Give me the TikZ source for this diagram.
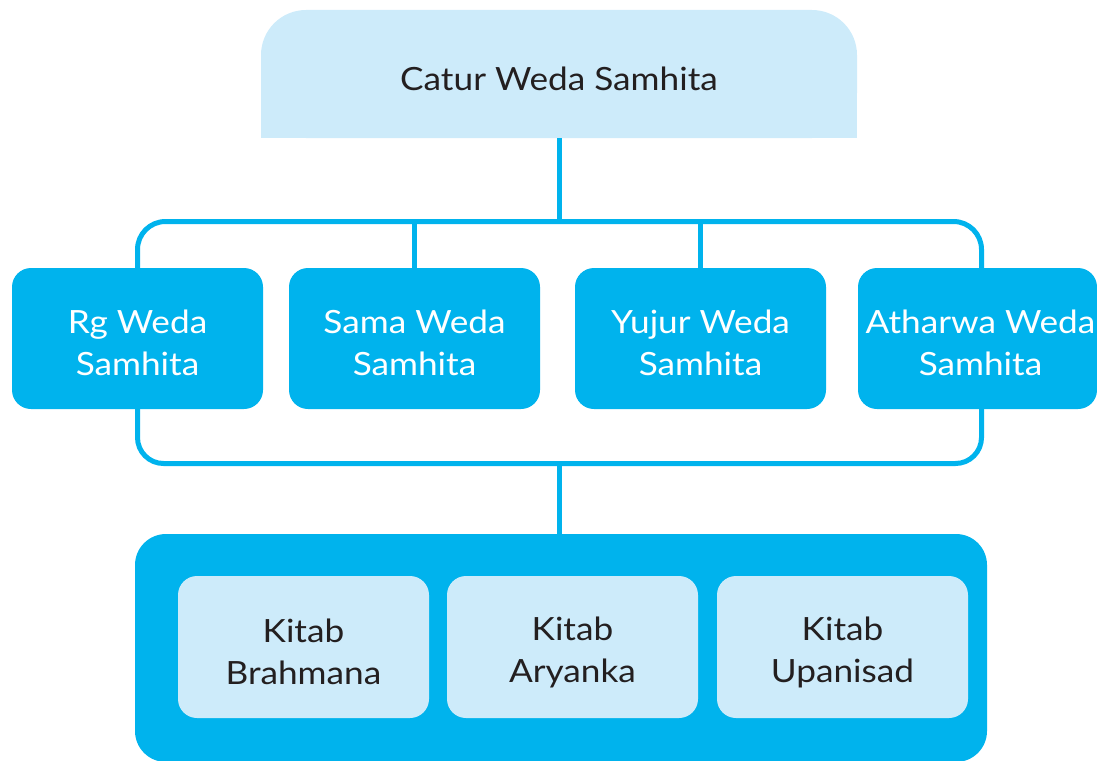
\documentclass[tikz,border=0pt]{standalone}
\usepackage{fontspec}
\setmainfont{Lato}[FakeStretch=1.1]
\definecolor{skyblue}{HTML}{00B3ED}
\definecolor{paleblue}{HTML}{CDEBFA}
\definecolor{inkdark}{HTML}{231F20}
\tikzset{
  x=1pt, y=1pt,
  label font/.style={font=\fontsize{32}{42}\selectfont, align=center},
  topbox/.style={rectangle, fill=paleblue, rounded corners=45pt,
    minimum width=596pt, minimum height=128pt, inner sep=0pt},
  wedabox/.style={rectangle, fill=skyblue, rounded corners=19pt,
    minimum width=251pt, minimum height=141pt, inner sep=0pt},
  basebox/.style={rectangle, fill=skyblue, rounded corners=31pt,
    minimum width=852pt, minimum height=228pt, inner sep=0pt},
  kitabbox/.style={rectangle, fill=paleblue, rounded corners=19pt,
    minimum width=251pt, minimum height=142pt, inner sep=0pt},
  wedatext/.style={label font, text=white},
  kitabtext/.style={label font, text=inkdark},
  conn/.style={draw=skyblue, line width=5pt},
}
\begin{document}
\begin{tikzpicture}
  \useasboundingbox (0,0) rectangle (1097,-760);
  \clip (0,0) rectangle (1097,-760);

  % title box: rounded on top, square at the bottom
  \node[topbox] (top) at (559,-74) {};
  \fill[paleblue] (top.west) rectangle (top.south east);
  \node[kitabtext] (toptext) at (559,-79) {Catur Weda Samhita};

  % the four Weda Samhita boxes
  \node[wedabox] (rg)    at (137.5,-338.5) {};
  \node[wedabox] (sama)  at (414.5,-338.5) {};
  \node[wedabox] (yujur) at (700.5,-338.5) {};
  \node[wedabox, minimum width=239pt] (atharwa) at (977.5,-338.5) {};
  \node[wedatext] (rgtext)      at ([yshift=-4pt]rg.center)    {Rg Weda\\Samhita};
  \node[wedatext] (samatext)    at ([yshift=-4pt]sama.center)  {Sama Weda\\Samhita};
  \node[wedatext] (yujurtext)   at ([yshift=-4pt]yujur.center) {Yujur Weda\\Samhita};
  \node[wedatext] (atharwatext) at ([xshift=3pt,yshift=-4pt]atharwa.center) {Atharwa Weda\\Samhita};

  % container with the three kitab
  \node[basebox] (base) at (561,-648) {};
  \node[kitabbox] (brahmana) at (303.5,-647) {};
  \node[kitabbox] (aryanka)  at (572.5,-647) {};
  \node[kitabbox] (upanisad) at (842.5,-647) {};
  \node[kitabtext] (brahmanatext) at ([yshift=-5pt]brahmana.center) {Kitab\\Brahmana};
  \node[kitabtext] (aryankatext)  at ([yshift=-5pt]aryanka.center)  {Kitab\\Aryanka};
  \node[kitabtext] (upanisadtext) at ([yshift=-5pt]upanisad.center) {Kitab\\Upanisad};

  % connectors
  \coordinate (hubtop) at (559.5,-221.5);
  \coordinate (hubbot) at (559.5,-463.5);
  \draw[conn] (top.south -| hubtop) -- (hubtop);
  \draw[conn, rounded corners=28pt] (rg.north) |- (hubtop) -| ([xshift=4pt]atharwa.north);
  \draw[conn] (sama.north) -- (sama.north |- hubtop);
  \draw[conn] (yujur.north) -- (yujur.north |- hubtop);
  \draw[conn, rounded corners=26pt] (rg.south) |- (hubbot) -| ([xshift=4pt]atharwa.south);
  \draw[conn] (hubbot) -- (hubbot |- base.north);
\end{tikzpicture}
\end{document}
